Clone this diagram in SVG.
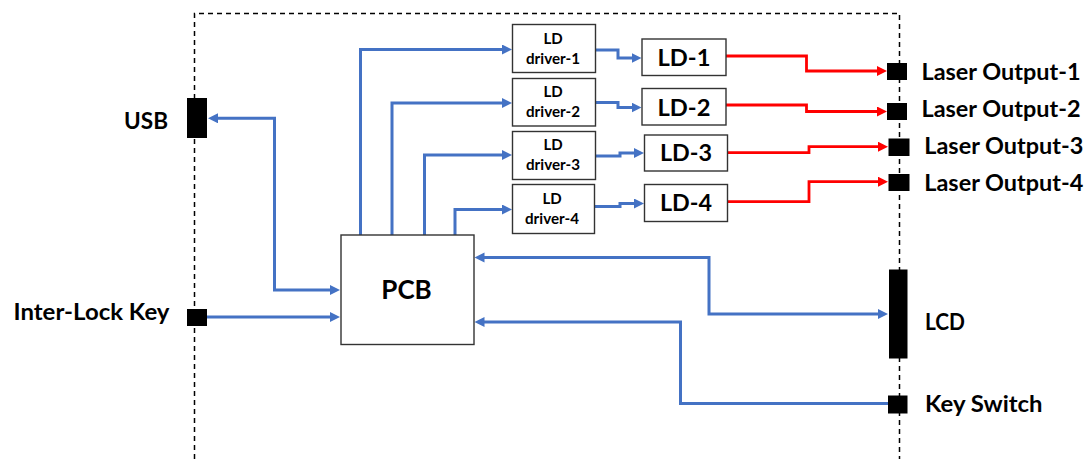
<svg xmlns="http://www.w3.org/2000/svg" width="1089" height="459" viewBox="0 0 1089 459">
<defs>
<style>
.bx{fill:#fff;stroke:#333;stroke-width:1.4}
.blk{fill:#000}
.t{font-family:Lato,"Liberation Sans",sans-serif;font-weight:bold;fill:#000}
.lb{font-size:22px}
.sm{font-size:15px}
.md{font-size:22px}
.bl{fill:none;stroke:#4472C4;stroke-width:3}
.rd{fill:none;stroke:#FF0000;stroke-width:2.8}
.dash{fill:none;stroke:#000;stroke-width:1.5;stroke-dasharray:5,4}
</style>
<marker id="ab" markerUnits="userSpaceOnUse" markerWidth="12" markerHeight="12" refX="4" refY="5" orient="auto-start-reverse" viewBox="0 0 12 12">
<path d="M0,0 L10,5 L0,10 z" fill="#4472C4"/>
</marker>
<marker id="ar" markerUnits="userSpaceOnUse" markerWidth="12" markerHeight="12" refX="4" refY="5" orient="auto" viewBox="0 0 12 12">
<path d="M0,0 L10,5 L0,10 z" fill="#FF0000"/>
</marker>
</defs>
<rect width="1089" height="459" fill="#fff"/>
<g id="enclosure">
<path class="dash" d="M194.5,459 V13.5 H899.5 V459"/>
</g>
<g id="connectors">
<path class="bl" d="M214,118.3 H274.5 V290 H334" marker-start="url(#ab)" marker-end="url(#ab)"/>
<path class="bl" d="M207,317 H334" marker-end="url(#ab)"/>
<path class="bl" d="M360.5,235 V49.5 H506" marker-end="url(#ab)"/>
<path class="bl" d="M392,235 V103 H506" marker-end="url(#ab)"/>
<path class="bl" d="M424.5,235 V155 H506" marker-end="url(#ab)"/>
<path class="bl" d="M455,235 V209.5 H506" marker-end="url(#ab)"/>
<path class="bl" d="M595.5,50 H618 V58 H635.5" marker-end="url(#ab)"/>
<path class="bl" d="M595.5,102.5 H618 V107.5 H635.5" marker-end="url(#ab)"/>
<path class="bl" d="M595.5,156 H620 V153 H638" marker-end="url(#ab)"/>
<path class="bl" d="M594.5,206.5 H620 V203.5 H638" marker-end="url(#ab)"/>
<path class="bl" d="M480.5,257.5 H709 V314 H882" marker-start="url(#ab)" marker-end="url(#ab)"/>
<path class="bl" d="M480.5,322 H680.5 V403.5 H888" marker-start="url(#ab)"/>
<path class="rd" d="M726,56 H806.5 V71 H881" marker-end="url(#ar)"/>
<path class="rd" d="M726,105 H806.5 V111.5 H881" marker-end="url(#ar)"/>
<path class="rd" d="M728,152.7 H809 V146.7 H882" marker-end="url(#ar)"/>
<path class="rd" d="M728,201.7 H809 V181.7 H882" marker-end="url(#ar)"/>
</g>
<g id="usb">
<rect class="blk" x="187" y="98" width="20" height="40"/>
<text class="t lb" x="124" y="128.5" textLength="44" lengthAdjust="spacingAndGlyphs">USB</text>
</g>
<g id="interlock">
<rect class="blk" x="187" y="309" width="20" height="17"/>
<text class="t lb" x="13.5" y="319.5" textLength="156" lengthAdjust="spacingAndGlyphs">Inter-Lock Key</text>
</g>
<g id="pcb">
<rect class="bx" x="341" y="235" width="133" height="109.5"/>
<text class="t" x="406.5" y="298.5" font-size="26" text-anchor="middle">PCB</text>
</g>
<g id="driver1">
<rect class="bx" x="512.5" y="24.5" width="83" height="48"/>
<text class="t sm" x="553" y="44" text-anchor="middle">LD</text>
<text class="t sm" x="553" y="64" text-anchor="middle" textLength="54" lengthAdjust="spacingAndGlyphs">driver-1</text>
</g>
<g id="driver2">
<rect class="bx" x="512.5" y="78.5" width="83" height="47.5"/>
<text class="t sm" x="553" y="96.7" text-anchor="middle">LD</text>
<text class="t sm" x="553" y="116.7" text-anchor="middle" textLength="54" lengthAdjust="spacingAndGlyphs">driver-2</text>
</g>
<g id="driver3">
<rect class="bx" x="512.5" y="131.5" width="83" height="48"/>
<text class="t sm" x="553" y="150" text-anchor="middle">LD</text>
<text class="t sm" x="553" y="169.5" text-anchor="middle" textLength="54" lengthAdjust="spacingAndGlyphs">driver-3</text>
</g>
<g id="driver4">
<rect class="bx" x="512.5" y="184.5" width="82" height="49"/>
<text class="t sm" x="552" y="204" text-anchor="middle">LD</text>
<text class="t sm" x="552" y="223.5" text-anchor="middle" textLength="54" lengthAdjust="spacingAndGlyphs">driver-4</text>
</g>
<g id="ld1">
<rect class="bx" x="642" y="39" width="84" height="36.5"/>
<text class="t md" x="684" y="66" text-anchor="middle" textLength="53" lengthAdjust="spacingAndGlyphs">LD-1</text>
</g>
<g id="ld2">
<rect class="bx" x="642" y="88.5" width="84" height="36.5"/>
<text class="t md" x="684" y="115.5" text-anchor="middle" textLength="53" lengthAdjust="spacingAndGlyphs">LD-2</text>
</g>
<g id="ld3">
<rect class="bx" x="644.5" y="135" width="83" height="36"/>
<text class="t md" x="686" y="161" text-anchor="middle" textLength="52" lengthAdjust="spacingAndGlyphs">LD-3</text>
</g>
<g id="ld4">
<rect class="bx" x="644.5" y="184.5" width="83" height="37"/>
<text class="t md" x="686" y="211" text-anchor="middle" textLength="52" lengthAdjust="spacingAndGlyphs">LD-4</text>
</g>
<g id="out1">
<rect class="blk" x="887" y="63" width="20" height="17"/>
<text class="t lb" x="921.5" y="80" textLength="159" lengthAdjust="spacingAndGlyphs">Laser Output-1</text>
</g>
<g id="out2">
<rect class="blk" x="887" y="103" width="20" height="17"/>
<text class="t lb" x="921.5" y="116.7" textLength="159" lengthAdjust="spacingAndGlyphs">Laser Output-2</text>
</g>
<g id="out3">
<rect class="blk" x="888.5" y="138.5" width="21" height="17.5"/>
<text class="t lb" x="924.3" y="154" textLength="159" lengthAdjust="spacingAndGlyphs">Laser Output-3</text>
</g>
<g id="out4">
<rect class="blk" x="888.5" y="174" width="21" height="17"/>
<text class="t lb" x="924.3" y="190.7" textLength="159" lengthAdjust="spacingAndGlyphs">Laser Output-4</text>
</g>
<g id="lcd">
<rect class="blk" x="889" y="269.5" width="18.5" height="89"/>
<text class="t lb" x="925" y="330" textLength="40" lengthAdjust="spacingAndGlyphs">LCD</text>
</g>
<g id="keyswitch">
<rect class="blk" x="888" y="395.5" width="19.5" height="18"/>
<text class="t lb" x="925" y="411.7" textLength="117.5" lengthAdjust="spacingAndGlyphs">Key Switch</text>
</g>
</svg>
